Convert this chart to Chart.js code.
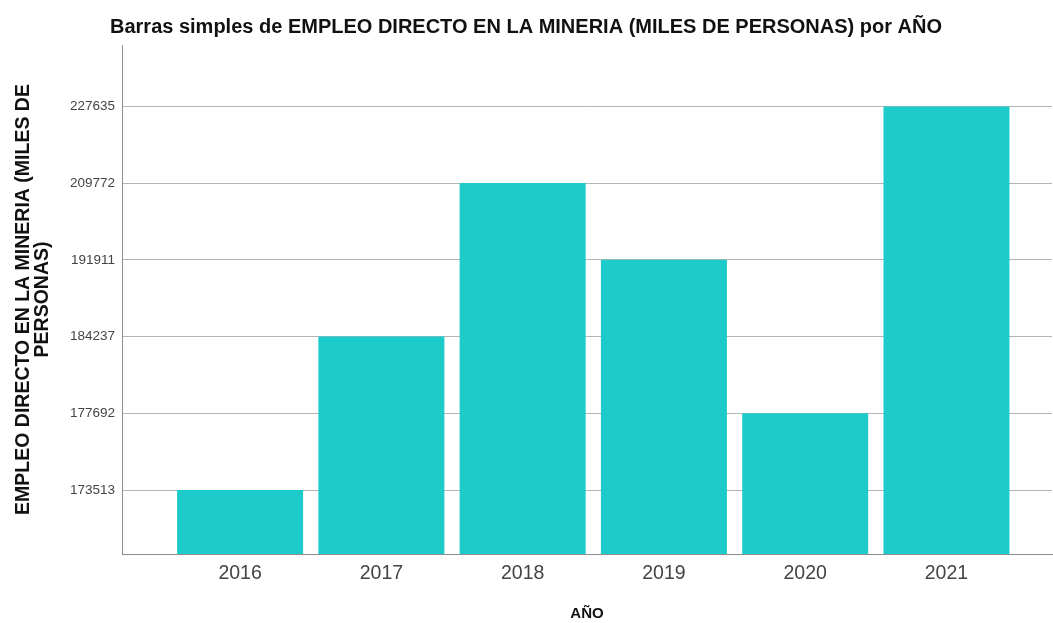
<!DOCTYPE html>
<html><head><meta charset="utf-8">
<script src="https://cdn.jsdelivr.net/npm/chart.js@4.4.0/dist/chart.umd.min.js"></script>
<style>html,body{margin:0;padding:0;background:#fff}#wrap{width:1053px;height:623px}</style>
</head><body><div id="wrap"><canvas id="c" width="1053" height="623"></canvas></div>
<script>
const years = [2016, 2017, 2018, 2019, 2020, 2021];
const empleo = [173513, 184237, 209772, 191911, 177692, 227635];
const tickLabels = [173513, 177692, 184237, 191911, 209772, 227635];
const chartTitle = 'Barras simples de EMPLEO DIRECTO EN LA MINERIA (MILES DE PERSONAS) por AÑO';
const yTitle = ['EMPLEO DIRECTO EN LA MINERIA (MILES DE', 'PERSONAS)'];
const xTitle = 'AÑO';

const FONT = '"Liberation Sans", Arial, sans-serif';
const points = years.map((y, i) => ({ x: y, y: tickLabels.indexOf(empleo[i]) + 1 }));

new Chart(document.getElementById('c'), {
  type: 'bar',
  data: {
    datasets: [{
      data: points,
      backgroundColor: '#1ECBCB',
      borderWidth: 0,
      categoryPercentage: 1,
      barPercentage: 0.892
    }]
  },
  options: {
    responsive: false,
    animation: false,
    devicePixelRatio: 1,
    layout: { padding: { left: 0, right: 1, top: 0, bottom: 0 } },
    plugins: {
      legend: { display: false },
      tooltip: { enabled: false },
      title: {
        display: true,
        text: chartTitle,
        color: '#111',
        font: { family: FONT, size: 20, weight: 'bold', lineHeight: 1.1 },
        padding: { top: 16, bottom: 7 }
      }
    },
    scales: {
      x: {
        type: 'linear',
        offset: false,
        min: 2015.164,
        max: 2021.747,
        afterBuildTicks: s => { s.ticks = years.map(v => ({ value: v })); },
        afterFit: s => { s.height = 69; },
        grid: { display: false, drawTicks: false },
        border: { color: '#8c8c8c', width: 1 },
        ticks: {
          callback: v => String(v),
          color: '#444',
          font: { family: FONT, size: 19.5 },
          padding: 8,
          maxRotation: 0,
          autoSkip: false
        },
        title: {
          display: true,
          text: xTitle,
          color: '#111',
          font: { family: FONT, size: 15, weight: 'bold' },
          padding: { top: 0, bottom: 0.5 }
        }
      },
      y: {
        type: 'linear',
        min: 0.166,
        max: 6.80,
        afterBuildTicks: s => { s.ticks = tickLabels.map((t, i) => ({ value: i + 1 })); },
        afterFit: s => { s.width = 122; },
        grid: { color: '#b4b4b4', lineWidth: 1, drawTicks: false },
        border: { color: '#8c8c8c', width: 1 },
        ticks: {
          callback: v => String(tickLabels[v - 1]),
          color: '#444',
          font: { family: FONT, size: 13.5 },
          padding: 7,
          autoSkip: false
        },
        title: {
          display: true,
          text: yTitle,
          color: '#111',
          font: { family: FONT, size: 19.5, weight: 'bold', lineHeight: '19px' },
          padding: { top: 14.5, bottom: 0 }
        }
      }
    }
  }
});
</script>
</body></html>
